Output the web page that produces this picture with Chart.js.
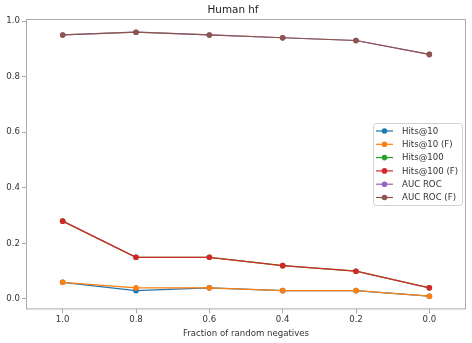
<!DOCTYPE html>
<html>
<head>
<meta charset="utf-8">
<script src="https://cdn.jsdelivr.net/npm/chart.js@4"></script>
<style>
  html, body { margin: 0; padding: 0; background: #fff; }
  #wrap { width: 472px; height: 343px; }
</style>
</head>
<body>
<div id="wrap"><canvas id="chart" width="472" height="343"></canvas></div>
<script>
// data
const fractions   = [1.0, 0.8, 0.6, 0.4, 0.2, 0.0];
const yTicks      = [0.0, 0.2, 0.4, 0.6, 0.8, 1.0];
const hits10      = [0.06, 0.03, 0.04, 0.03, 0.03, 0.01];
const hits10F     = [0.06, 0.04, 0.04, 0.03, 0.03, 0.01];
const hits100     = [0.28, 0.15, 0.15, 0.12, 0.10, 0.04];
const hits100F    = [0.28, 0.15, 0.15, 0.12, 0.10, 0.04];
const aucRoc      = [0.95, 0.96, 0.95, 0.94, 0.93, 0.88];
const aucRocF     = [0.95, 0.96, 0.95, 0.94, 0.93, 0.88];

const labels = ['Hits@10', 'Hits@10 (F)', 'Hits@100', 'Hits@100 (F)', 'AUC ROC', 'AUC ROC (F)'];
const colors = ['#1f77b4', '#ff7f0e', '#2ca02c', '#d62728', '#9467bd', '#8c564b'];
const series = [hits10, hits10F, hits100, hits100F, aucRoc, aucRocF];

const FONT = "'DejaVu Sans', sans-serif";
const TEXT = '#333';
const SPINE = '#aaa';

let datasets = series.map(function(vals, i) {
	return {
		label               : labels[i],
		data                : fractions.map((f, j) => ({ x: f, y: vals[j] })),
		borderColor         : colors[i],
		backgroundColor     : colors[i],
		pointBackgroundColor: colors[i],
		pointBorderColor    : colors[i],
		borderWidth         : 1.2,
		pointRadius         : 2.8,
		pointBorderWidth    : 0,
		tension             : 0,
		order               : series.length - i
	};
});

// frame round the axes, like matplotlib spines
const framePlugin = {
	id: 'frame',
	afterDatasetsDraw(chart) {
		let a = chart.chartArea, ctx = chart.ctx;
		ctx.save();
		ctx.strokeStyle = SPINE;
		ctx.lineWidth = 1;
		ctx.strokeRect(a.left + 0.5, a.top + 0.5, a.right - a.left - 1, a.bottom - a.top - 1);
		ctx.restore();
	}
};

// legend box inside the plot, centre right
const boxLegend = {
	id: 'boxLegend',
	afterDraw(chart) {
		let a = chart.chartArea, ctx = chart.ctx;
		let w = 89, h = 82, rowH = 13.3;
		let x = a.right - 4 - w, y = 123;
		ctx.save();
		ctx.beginPath();
		ctx.roundRect(x + 0.5, y + 0.5, w, h, 3);
		ctx.fillStyle = 'rgba(255,255,255,0.8)';
		ctx.fill();
		ctx.strokeStyle = '#d0d0d0';
		ctx.lineWidth = 1;
		ctx.stroke();
		ctx.font = '8.6px ' + FONT;
		ctx.textBaseline = 'middle';
		chart.data.datasets.forEach(function(ds, i) {
			let cy = y + 8 + i * rowH;
			ctx.strokeStyle = ds.borderColor;
			ctx.lineWidth = 1.2;
			ctx.beginPath();
			ctx.moveTo(x + 3, cy);
			ctx.lineTo(x + 20, cy);
			ctx.stroke();
			ctx.fillStyle = ds.borderColor;
			ctx.beginPath();
			ctx.arc(x + 11.5, cy, 2.8, 0, Math.PI * 2);
			ctx.fill();
			ctx.fillStyle = TEXT;
			ctx.fillText(ds.label, x + 29, cy + 0.5);
		});
		ctx.restore();
	}
};

new Chart(document.getElementById('chart'), {
	type: 'line',
	data: { datasets: datasets },
	plugins: [framePlugin, boxLegend],
	options: {
		responsive : false,
		animation  : false,
		layout     : { padding: { left: 0, right: 6, top: 0, bottom: 0 } },
		plugins: {
			legend : { display: false },
			tooltip: { enabled: false },
			title  : {
				display: true,
				text   : 'Human hf',
				color  : '#222',
				font   : { family: FONT, size: 10.4, weight: 'normal', lineHeight: 1.2 },
				padding: { top: 4, bottom: 2.5 }
			}
		},
		scales: {
			x: {
				type   : 'linear',
				reverse: true,
				min    : -0.1,
				max    : 1.1,
				afterBuildTicks: s => { s.ticks = fractions.map(v => ({ value: v })); },
				afterFit: s => { s.height = 33.6; },
				border : { display: false },
				grid   : { drawOnChartArea: false, drawTicks: true, tickLength: 4, color: SPINE },
				ticks  : {
					color: TEXT, padding: 1, maxRotation: 0,
					font : { family: FONT, size: 8.6 },
					callback: v => Number(v).toFixed(1)
				},
				title  : {
					display: true,
					text   : 'Fraction of random negatives',
					color  : TEXT,
					font   : { family: FONT, size: 8.6 },
					padding: { top: 0, bottom: 4 }
				}
			},
			y: {
				min    : -0.0375,
				max    : 1.0075,
				afterBuildTicks: s => { s.ticks = yTicks.map(v => ({ value: v })); },
				afterFit: s => { s.width = 26; },
				border : { display: false },
				grid   : { drawOnChartArea: false, drawTicks: true, tickLength: 4, color: SPINE },
				ticks  : {
					color: TEXT, padding: 2,
					font : { family: FONT, size: 8.6 },
					callback: v => Number(v).toFixed(1)
				}
			}
		}
	}
});
</script>
</body>
</html>
